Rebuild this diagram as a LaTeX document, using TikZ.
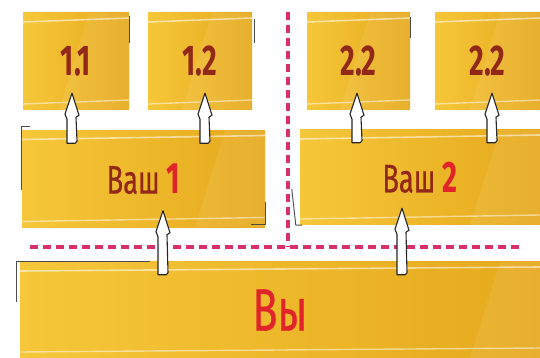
\documentclass[tikz,border=0pt]{standalone}
\usepackage{fontspec}
\newfontfamily\condfont[FakeStretch=0.66]{Fira Sans}
\newfontfamily\condmed[FakeStretch=0.68, FakeBold=0.5]{Fira Sans}
\usetikzlibrary{calc}
\definecolor{goldA}{HTML}{F6C73A}
\definecolor{goldB}{HTML}{E6A91C}
\definecolor{txtdark}{HTML}{922818}
\definecolor{txtred}{HTML}{E0242A}
\definecolor{dashred}{HTML}{D8306A}
\tikzset{
  goldbox/.style={rectangle, inner sep=0pt, left color=goldA, right color=goldB,
    path picture={
      \draw[line width=1.6pt, white, opacity=0.55]
        ([yshift=-9pt]path picture bounding box.north west) -- ([yshift=-5pt]path picture bounding box.north east);
      \draw[line width=1.4pt, white, opacity=0.5]
        ([yshift=6pt]path picture bounding box.south west) -- ([yshift=10pt]path picture bounding box.south east);
      \fill[white, opacity=0.08]
        ([xshift=-40pt]path picture bounding box.north east) -- (path picture bounding box.north east)
        -- (path picture bounding box.south east) -- ([xshift=-70pt]path picture bounding box.south east) -- cycle;
    }},
  smallbox/.style={goldbox, minimum width=106pt, minimum height=97pt,
    font=\condfont\bfseries\fontsize{43}{43}\selectfont, text=txtdark},
  midbox/.style={goldbox, minimum height=97pt, font=\condmed\fontsize{40}{40}\selectfont, text=txtdark},
  sep/.style={dashred, line width=3.5pt, dash pattern=on 8pt off 5pt},
  linkarrow/.style={fill=white, draw=black!85, line width=1.1pt, line join=round},
  edge/.style={draw=black!70, line width=0.9pt}
}
\newcommand\uplink[3]{% #1 lower node, #2 upper node, #3 x position
  \path[linkarrow] let \p1=(#2.south), \p2=(#1.north) in
    (#3, \y1+17) -- (#3+7, \y1-5) -- (#3+4, \y1-7) -- (#3+5, \y2-11)
    -- (#3+3, \y2-13) -- (#3-5, \y2-13) -- (#3-5, \y1-9) -- (#3-7, \y1-4) -- cycle;
}
\begin{document}
\begin{tikzpicture}[x=1pt,y=1pt]
\useasboundingbox (0,0) rectangle (540,358);
\fill[white] (0,0) rectangle (540,358);
% top row
\node[smallbox] (b11) at (76,296.5) {1.1};
\node[smallbox, minimum width=104pt] (b12) at (200,296.5) {1.2};
\node[smallbox, minimum width=103pt] (b21) at (358.5,296.5) {2.2};
\node[smallbox, minimum width=105pt] (b22) at (487.5,296.5) {2.2};
% middle row
\node[midbox, minimum width=243pt] (v1) at (143.5,179)
  {Ваш {\color{txtred}\condfont\bfseries\fontsize{44}{44}\selectfont 1}};
\node[midbox, minimum width=240pt, minimum height=95pt] (v2) at (420,180.5)
  {Ваш {\color{txtred}\condfont\bfseries\fontsize{44}{44}\selectfont 2}};
% bottom
\node[goldbox, minimum width=520pt, minimum height=96pt, text=txtred,
  font=\condmed\fontsize{60}{60}\selectfont] (vy) at (280,48) {Вы};
% partial dark edges
\draw[edge] ([yshift=-60pt]v1.north west) -- ([yshift=4pt]v1.north west) -- ([xshift=8pt,yshift=4pt]v1.north west);
\draw[edge] ([yshift=26pt]v1.south east) -- ([yshift=3pt]v1.south east) -- ([xshift=-14pt,yshift=3pt]v1.south east);
\draw[edge] ([xshift=-8pt,yshift=36pt]v2.south west) -- ([xshift=-4pt]v2.south west) -- ([xshift=2pt]v2.south west);
\draw[edge] ([xshift=-3pt,yshift=-40pt]vy.north west) -- ([xshift=-3pt]vy.north west) -- ([xshift=130pt]vy.north west);
\draw[edge] ([yshift=-3pt]b11.north east) -- ([yshift=-30pt]b11.north east);
\draw[edge] ([xshift=2pt,yshift=-6pt]b12.north east) -- ([xshift=2pt,yshift=-30pt]b12.north east);
\draw[edge] ([yshift=-4pt]b21.north east) -- ([yshift=-25pt]b21.north east);
% separators
\coordinate (hl) at (30,111);
\coordinate (hr) at (522,111);
\coordinate (vt) at (288,346);
\coordinate (vb) at (288,111);
\draw[sep] (hl) -- (hr);
\draw[sep] (vt) -- (vb);
% links
\uplink{v1}{b11}{72}
\uplink{v1}{b12}{205}
\uplink{v2}{b21}{357}
\uplink{v2}{b22}{492}
\uplink{vy}{v1}{163}
\uplink{vy}{v2}{402}
\end{tikzpicture}
\end{document}
